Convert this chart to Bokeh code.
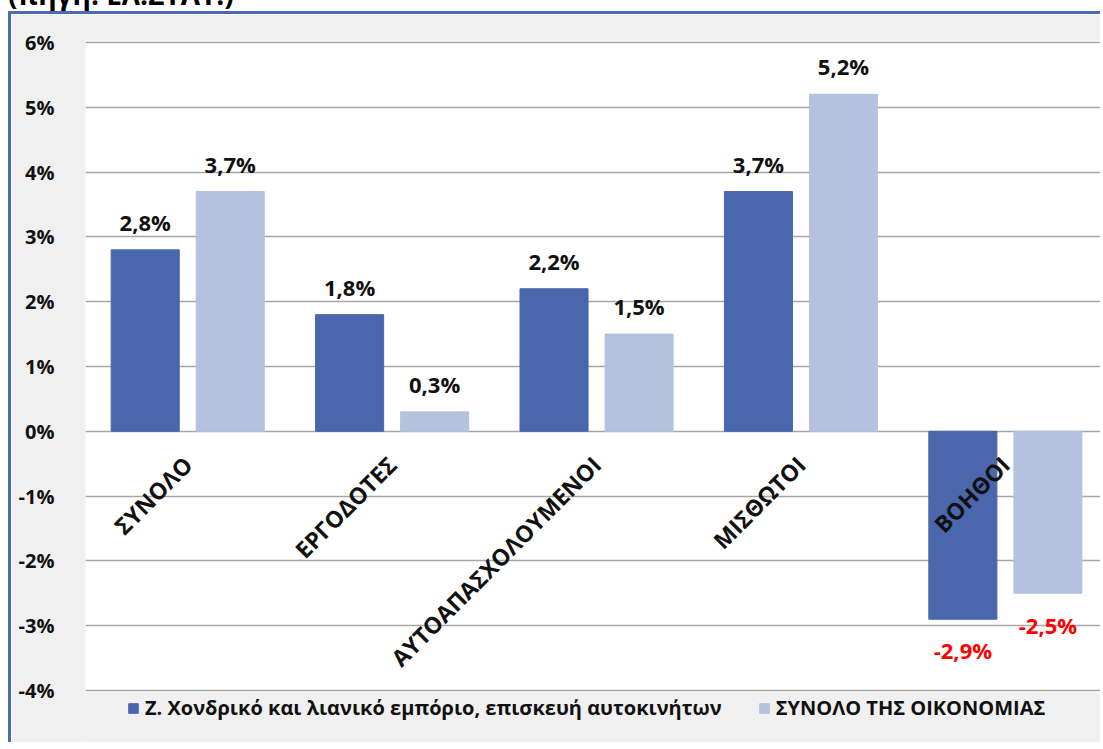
from bokeh.plotting import figure
from bokeh.models import ColumnDataSource, Range1d, FixedTicker, Legend, LegendItem, Div, BoxAnnotation
from bokeh.layouts import column
from bokeh.embed import file_html
from bokeh.resources import INLINE
from bokeh.core.properties import value

# ---- data ----
categories = ["ΣΥΝΟΛΟ", "ΕΡΓΟΔΟΤΕΣ", "ΑΥΤΟΑΠΑΣΧΟΛΟΥΜΕΝΟΙ", "ΜΙΣΘΩΤΟΙ", "ΒΟΗΘΟΙ"]
trade = [2.8, 1.8, 2.2, 3.7, -2.9]
economy = [3.7, 0.3, 1.5, 5.2, -2.5]
series_names = ["Ζ. Χονδρικό και λιανικό εμπόριο, επισκευή αυτοκινήτων",
                "ΣΥΝΟΛΟ ΤΗΣ ΟΙΚΟΝΟΜΙΑΣ"]
y_ticks = [-4, -3, -2, -1, 0, 1, 2, 3, 4, 5, 6]
y_tick_labels = ["-4%", "-3%", "-2%", "-1%", "0%", "1%", "2%", "3%", "4%", "5%", "6%"]
source_note = "(πηγή: ΕΛ.ΣΤΑΤ.)"

# ---- styling ----
FONT = "Open Sans"
DARK = "#4a67ae"
LIGHT = "#b4c2e0"
BLUE_BORDER = "#4a6bb0"
PANEL = "#f0f0f0"

centers = [i + 0.5 for i in range(len(categories))]
off = 0.208
bw = 0.333
y_min, y_max = min(y_ticks), max(y_ticks)


def fmt(v):
    return f"{v:.1f}%".replace(".", ",")


def label_rows(vals, xs):
    pos = dict(x=[], y=[], t=[])
    neg = dict(x=[], y=[], t=[])
    for x, v in zip(xs, vals):
        if v >= 0:
            pos["x"].append(x); pos["y"].append(v + 0.2); pos["t"].append(fmt(v))
        else:
            neg["x"].append(x); neg["y"].append(v - 0.25); neg["t"].append(fmt(v))
    return pos, neg


x_dark = [c - off for c in centers]
x_light = [c + off for c in centers]

src_dark = ColumnDataSource(dict(x=x_dark, top=trade))
src_light = ColumnDataSource(dict(x=x_light, top=economy))

# frame extends below the -4% line to host the legend (grey strip drawn as panel colour)
p = figure(width=1092, height=731, x_range=Range1d(0, 4.98),
           y_range=Range1d(y_min - 0.848, y_max + 0.03),
           output_backend="svg", toolbar_location=None, x_axis_location=None,
           min_border_left=74, min_border_right=0, min_border_top=26, min_border_bottom=0)
p.margin = (0, 0, 0, 8)
p.styles = {"border-left": f"3px solid {BLUE_BORDER}", "border-top": f"3px solid {BLUE_BORDER}"}
p.border_fill_color = PANEL
p.background_fill_color = PANEL
p.outline_line_color = None
p.xgrid.visible = False
p.ygrid.ticker = FixedTicker(ticks=y_ticks)
p.ygrid.grid_line_color = "#a6a6a6"
p.ygrid.grid_line_width = 1.5

plot_area = BoxAnnotation(bottom=y_min - 0.03, fill_color="white", fill_alpha=1.0,
                          line_color=None, level="image")
p.add_layout(plot_area)

ax = p.yaxis[0]
ax.ticker = FixedTicker(ticks=y_ticks)
ax.major_label_overrides = {t: l for t, l in zip(y_ticks, y_tick_labels)}
ax.axis_line_color = None
ax.major_tick_line_color = None
ax.minor_tick_line_color = None
ax.major_label_standoff = 25
ax.major_label_text_font = FONT
ax.major_label_text_font_style = "bold"
ax.major_label_text_font_size = "20px"
ax.major_label_text_color = "#111111"

r1 = p.vbar(x="x", top="top", bottom=0, width=bw, source=src_dark,
            fill_color=DARK, line_color=DARK)
r2 = p.vbar(x="x", top="top", bottom=0, width=bw, source=src_light,
            fill_color=LIGHT, line_color=LIGHT)

for vals, xs in ((trade, x_dark), (economy, x_light)):
    pos, neg = label_rows(vals, xs)
    p.text(x="x", y="y", text="t", source=ColumnDataSource(pos), text_align="center",
           text_baseline="bottom", text_font=value(FONT), text_font_style="bold",
           text_font_size="22px", text_color="#111111")
    p.text(x="x", y="y", text="t", source=ColumnDataSource(neg), text_align="center",
           text_baseline="top", text_font=value(FONT), text_font_style="bold",
           text_font_size="22px", text_color="#ff0000")

cat_src = ColumnDataSource(dict(x=centers, y=[-0.45] * len(categories), t=categories))
p.text(x="x", y="y", text="t", source=cat_src, angle=0.785398, text_align="right",
       text_baseline="middle", text_font=value(FONT), text_font_style="bold",
       text_font_size="23px", text_color="#111111")

legend = Legend(items=[LegendItem(label=series_names[0], renderers=[r1]),
                       LegendItem(label=series_names[1], renderers=[r2])],
                orientation="horizontal", location=(42, 24),
                glyph_width=12, glyph_height=12, label_standoff=6, spacing=36,
                padding=2, margin=0, background_fill_alpha=0, border_line_color=None,
                label_text_font=FONT, label_text_font_style="bold",
                label_text_font_size="20px", label_text_color="#111111")
p.add_layout(legend)

title_div = Div(text=f'<div style="position:relative; top:-26px; left:8px; white-space:nowrap; '
                     f'font-family:\'{FONT}\'; font-weight:bold; font-size:28px; color:#000;">'
                     f'{source_note}</div>',
                width=1103, height=11, margin=0, styles={"overflow": "hidden"})

layout = column(title_div, p, spacing=0, margin=0)
open("out.html", "w").write(file_html(layout, INLINE))
